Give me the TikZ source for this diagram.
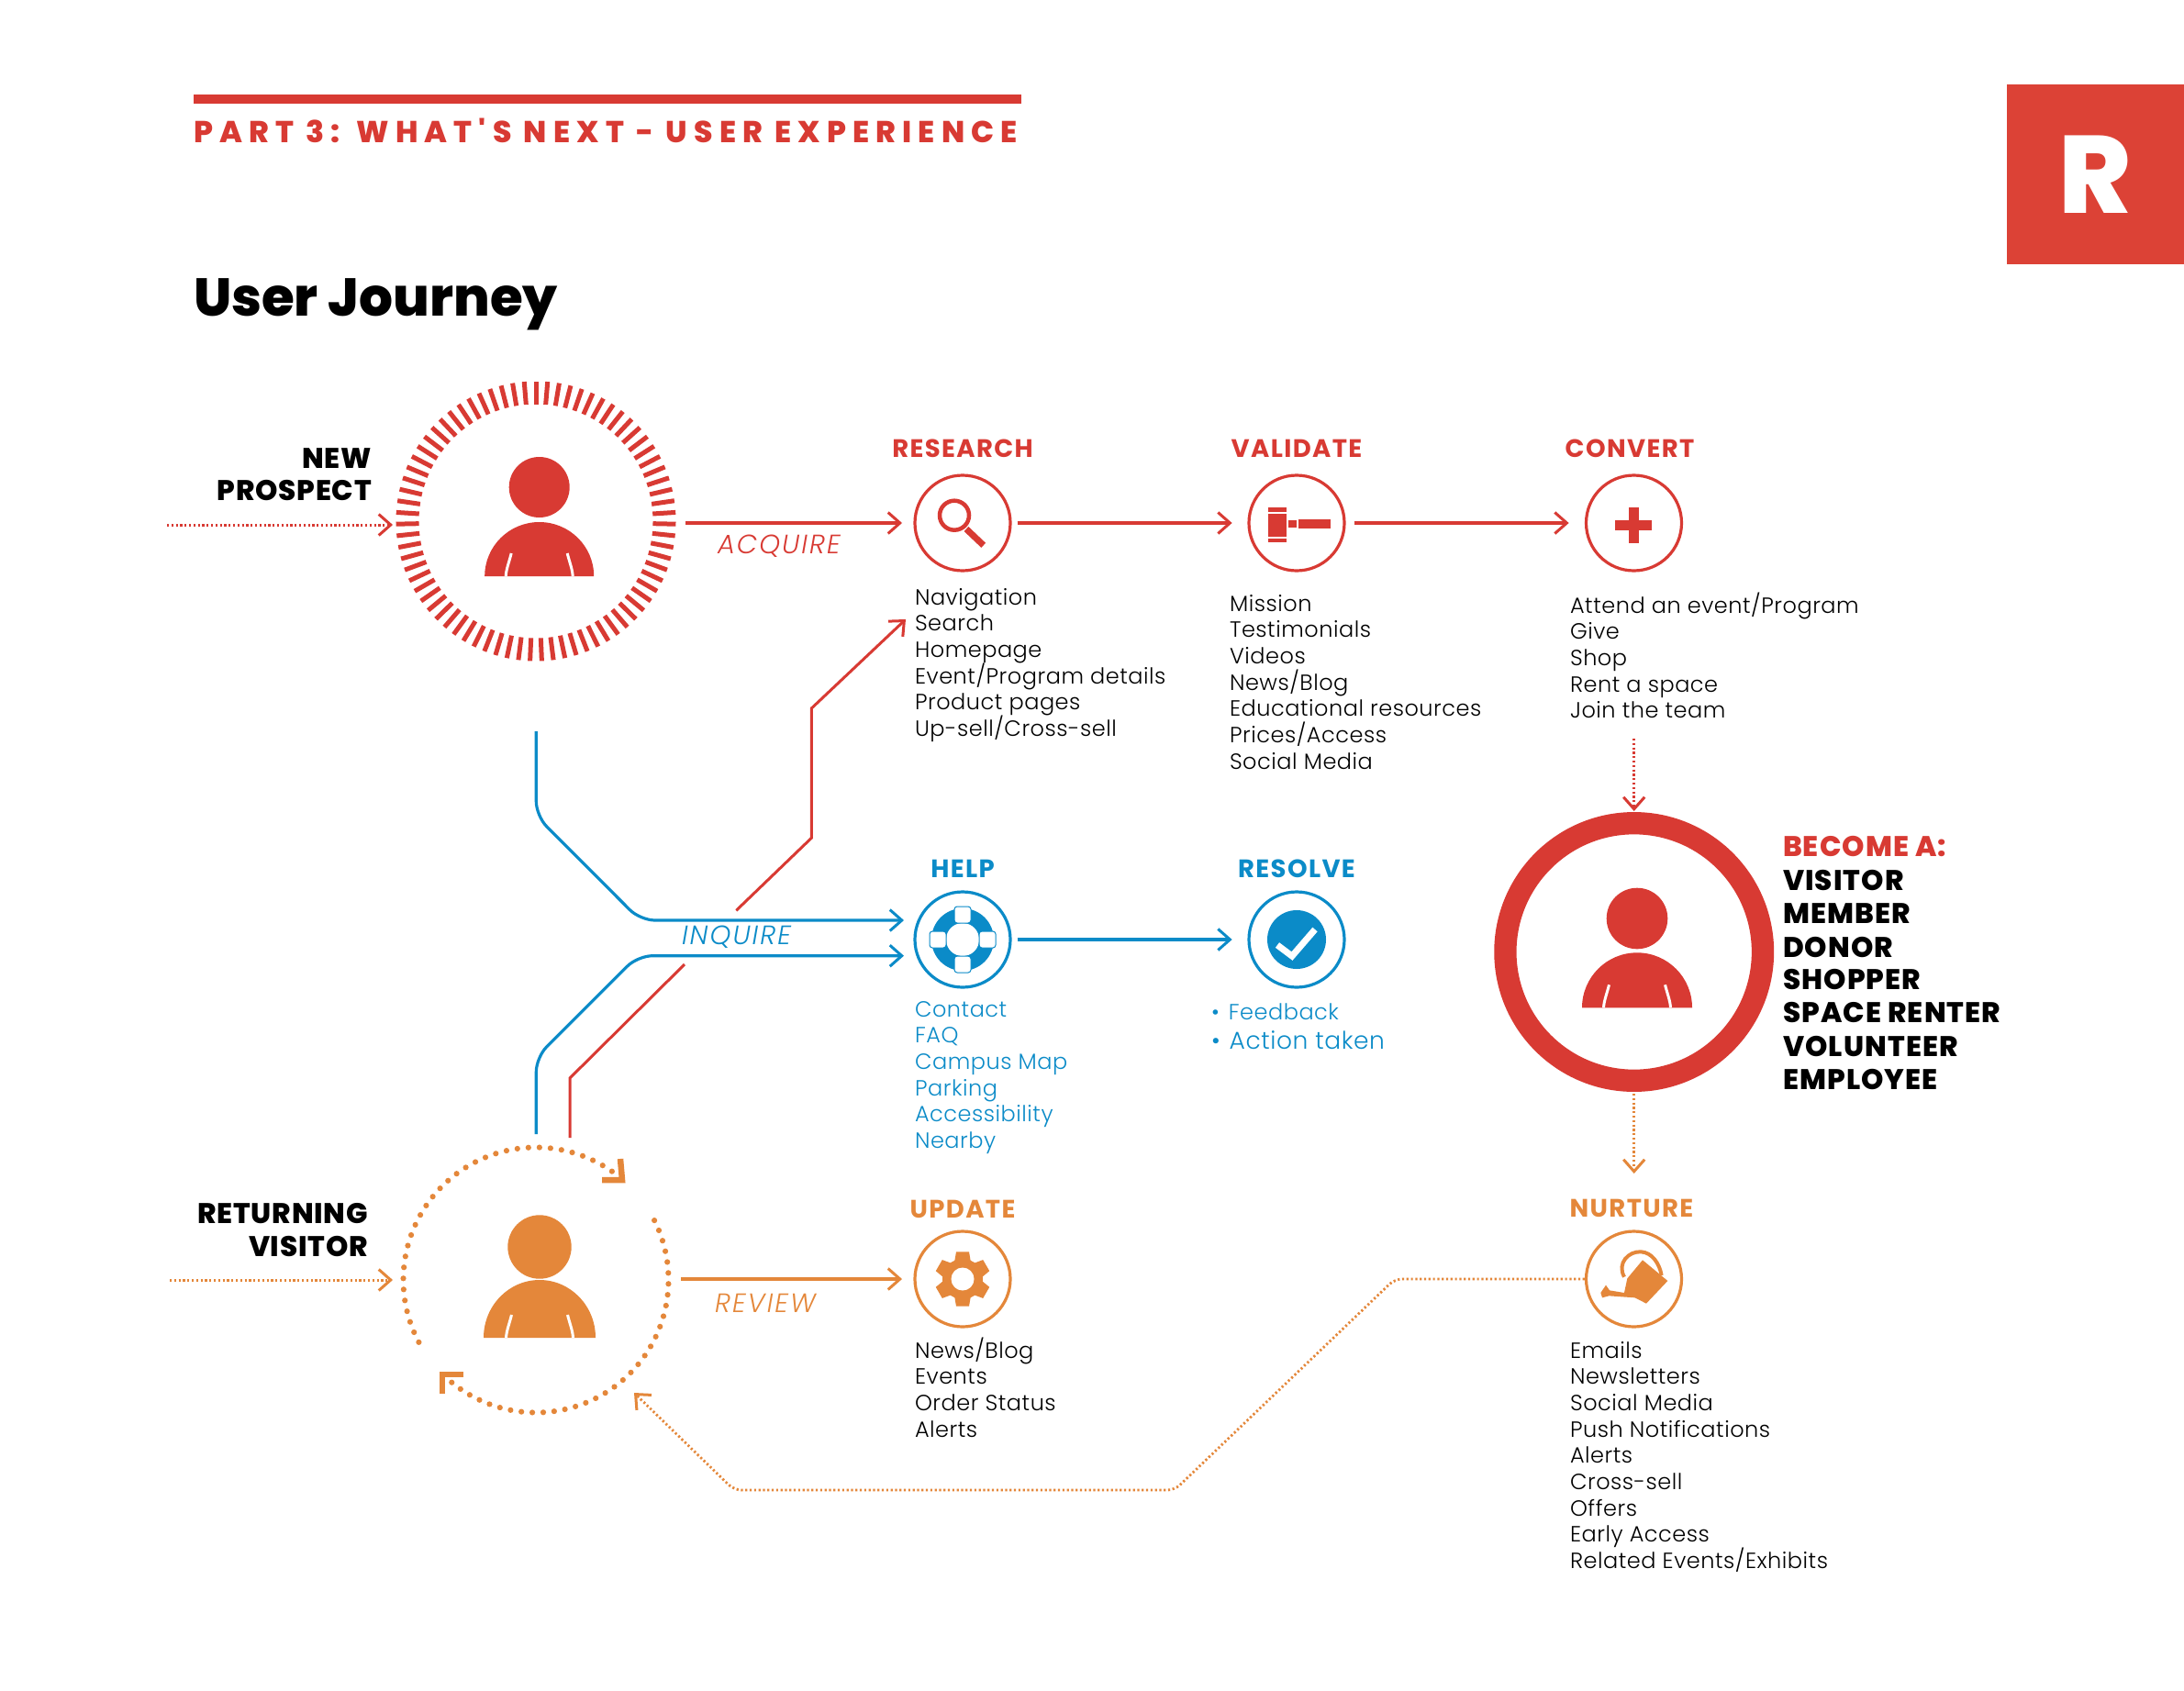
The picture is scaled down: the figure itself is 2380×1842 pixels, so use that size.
\documentclass[tikz,border=0pt]{standalone}
\usepackage{fontspec}
\usetikzlibrary{arrows.meta}
\setmainfont{Poppins}[UprightFont=* Light,BoldFont=* Bold,ItalicFont=* Light Italic,BoldItalicFont=* Bold Italic]
\newfontfamily\heavyf{Poppins ExtraBold}
\definecolor{rj}{HTML}{D83A33}
\definecolor{logored}{HTML}{DC4236}
\definecolor{bj}{HTML}{0B8BC8}
\definecolor{oj}{HTML}{E4873A}

\tikzset{
  x=1pt,y=-1pt,
  txt/.style={anchor=base west,inner sep=0,outer sep=0},
  listtxt/.style={txt,font=\fontsize{24}{28}\selectfont\addfontfeature{LetterSpace=2.2}},
  stage/.style={anchor=base,inner sep=0,font=\fontsize{27.5}{30}\selectfont\bfseries\addfontfeature{LetterSpace=5}},
  role/.style={anchor=base east,inner sep=0,font=\fontsize{31}{34}\selectfont\heavyf\addfontfeature{LetterSpace=2.5}},
  become/.style={txt,font=\fontsize{31}{36}\selectfont\heavyf\addfontfeature{LetterSpace=3.6}},
  phase/.style={txt,font=\fontsize{29}{32}\selectfont\itshape\addfontfeature{LetterSpace=7}},
  stop/.style={circle,draw,fill=white,line width=3.2pt,minimum size=104pt,inner sep=0},
  flow/.style={line width=3.5pt,-{Straight Barb[length=13pt,width=23pt,line width=3pt]}},
  trail/.style={line width=3pt,dash pattern=on 2.2pt off 2.6pt,-{Straight Barb[length=13pt,width=23pt,line width=3pt]}},
}

% filled person figure: colour, centre x, head y, head radius, body top, base y, half width
\newcommand{\personfig}[7]{
  \fill[#1] (#2,#3) circle (#4pt);
  \fill[#1] ({#2-#7},#6) arc[start angle=180,end angle=0,x radius=#7pt,y radius={(#6-#5)*1pt}] -- cycle;
  \draw[white,line width=3pt] ({#2-30.5},{#6-25}) .. controls ({#2-33},{#6-15}) and ({#2-36},{#6-8}) .. ({#2-36.5},#6);
  \draw[white,line width=3pt] ({#2+30.5},{#6-25}) .. controls ({#2+33},{#6-15}) and ({#2+36},{#6-8}) .. ({#2+36.5},#6);
}
% column of text lines: name prefix, x, first baseline, colour, items
\newcommand{\linesof}[5]{
  \foreach \itemtxt [count=\i from 0] in {#5}
    \node[listtxt,text=#4] (#1-\i) at (#2,{#3+\i*28.7}) {\itemtxt};
}

\begin{document}
\begin{tikzpicture}
\useasboundingbox (0,0) rectangle (2380,1842);
\fill[white] (0,0) rectangle (2380,1842);

% header
\fill[rj] (211,103) rectangle (1113,113);
\node[txt,text=rj,font=\fontsize{33}{36}\selectfont\heavyf\addfontfeature{LetterSpace=21.6}] (parttitle) at (211,155) {PART 3: WHAT'S NEXT - USER EXPERIENCE};
\node[txt,font=\fontsize{58}{66}\selectfont\heavyf] (journeytitle) at (211,344) {User Journey};
\fill[logored] (2187,92) rectangle (2380,288);
\node[txt,text=white,font=\fontsize{120}{120}\selectfont\heavyf] (logoR) at (2243,232) {R};

% new prospect: tick ring and figure
\foreach \k in {0,...,74}
  \draw[rj,line width=5pt] ({584+127.5*cos(90+\k*4.8)},{568-127.5*sin(90+\k*4.8)}) -- ({584+152.5*cos(90+\k*4.8)},{568-152.5*sin(90+\k*4.8)});
\personfig{rj}{587.7}{531}{33}{569}{628}{59.5}
\node[role] (newA) at (405,510) {NEW};
\node[role] (newB) at (405,545) {PROSPECT};

% returning visitor: dotted ring and figure
\foreach \k in {0,...,32}
  \fill[oj] ({584+144.5*cos(208-\k*153/32)},{1395-144.5*sin(208-\k*153/32)}) circle (3.1pt);
\foreach \k in {0,...,33}
  \fill[oj] ({584+144.5*cos(26.7-\k*156.1/33)},{1395-144.5*sin(26.7-\k*156.1/33)}) circle (3.1pt);
\draw[oj,line width=6.5pt,miter limit=10] (676,1263) -- (678,1286) -- (656,1286);
\draw[oj,line width=6.5pt,miter limit=10] (505,1498) -- (482,1498) -- (482,1519);
\personfig{oj}{588}{1359}{34.7}{1395}{1458}{61}
\node[role] (retA) at (401,1333) {RETURNING};
\node[role] (retB) at (401,1369) {VISITOR};

% stops
\node[stop,draw=rj] (research) at (1049,570) {};
\node[stop,draw=rj] (validate) at (1413,570) {};
\node[stop,draw=rj] (convert) at (1780.5,570) {};
\node[stop,draw=bj] (help) at (1049,1024) {};
\node[stop,draw=bj] (resolve) at (1413,1024) {};
\node[stop,draw=oj] (update) at (1049,1394) {};
\node[stop,draw=oj] (nurture) at (1780.5,1394) {};

% stop titles
\node[stage,text=rj] (researchT) at (1049,498) {RESEARCH};
\node[stage,text=rj] (validateT) at (1413,498) {VALIDATE};
\node[stage,text=rj] (convertT) at (1776,498) {CONVERT};
\node[stage,text=bj] (helpT) at (1049,956) {HELP};
\node[stage,text=bj] (resolveT) at (1413,956) {RESOLVE};
\node[stage,text=oj] (updateT) at (1049,1327) {UPDATE};
\node[stage,text=oj] (nurtureT) at (1778,1326) {NURTURE};

% magnifier
\draw[rj,line width=4.5pt] (1040,561.7) circle (16pt);
\draw[rj,line width=7pt] (1053,576.5) -- (1071.7,594.3);
% gavel
\fill[rj] (1382,553) rectangle (1402,557.5);
\fill[rj] (1382,560) rectangle (1402,585);
\fill[rj] (1382,587) rectangle (1402,591);
\fill[rj] (1404,567) rectangle (1412.5,575);
\fill[rj] (1415,566) rectangle (1450,576);
% plus
\fill[rj] (1760,566.5) rectangle (1800,577.5);
\fill[rj] (1774.5,553) rectangle (1785.5,592);
% life ring
\fill[bj] (help) circle (34pt);
\fill[white] (help) circle (18pt);
\foreach \dx/\dy in {0/-27,0/27,-27/0,27/0}
  \draw[bj,fill=white,line width=1pt,rounded corners=3pt] ({1049+\dx-9},{1024+\dy-9}) rectangle ({1049+\dx+9},{1024+\dy+9});
% check badge
\fill[bj] (resolve) circle (32pt);
\draw[white,line width=7pt] (1392,1030) -- (1408,1042) -- (1433,1013);
% gear
\fill[oj] (1049,1394) circle (22pt);
\foreach \a in {30,90,...,330}
  \fill[oj] ({1049+18*cos(\a)-9*sin(\a)},{1394-18*sin(\a)-9*cos(\a)})
    -- ({1049+29.7*cos(\a)-7*sin(\a)},{1394-29.7*sin(\a)-7*cos(\a)})
    -- ({1049+29.7*cos(\a)+7*sin(\a)},{1394-29.7*sin(\a)+7*cos(\a)})
    -- ({1049+18*cos(\a)+9*sin(\a)},{1394-18*sin(\a)+9*cos(\a)}) -- cycle;
\fill[white] (1049,1394) circle (12.5pt);
% watering can
\begin{scope}[shift={(1720,1335)},x=0.3333pt,y=-0.3333pt]
  \fill[oj] (210,115) -- (292,183) -- (222,257) -- (185,238) -- (100,232) -- (78,238) -- (73,222) -- (90,197) -- (102,214) -- (150,222) -- (160,175) -- cycle;
  \draw[oj,line width=4pt] (150,170) .. controls (125,125) and (165,85) .. (205,88) .. controls (240,90) and (265,125) .. (272,165);
\end{scope}

% text columns
\linesof{researchL}{997}{659}{black}{Navigation,Search,Homepage,Event/Program details,Product pages,Up-sell/Cross-sell}
\linesof{validateL}{1340}{666}{black}{Mission,Testimonials,Videos,News/Blog,Educational resources,Prices/Access,Social Media}
\linesof{convertL}{1711}{668}{black}{Attend an event/Program,Give,Shop,Rent a space,Join the team}
\linesof{helpL}{997}{1108}{bj}{Contact,FAQ,Campus Map,Parking,Accessibility,Nearby}
\linesof{updateL}{997}{1480}{black}{News/Blog,Events,Order Status,Alerts}
\linesof{nurtureL}{1711}{1480}{black}{Emails,Newsletters,Social Media,Push Notifications,Alerts,Cross-sell,Offers,Early Access,Related Events/Exhibits}
\node[listtxt,text=bj] (resolveA) at (1320,1111) {•\kern10pt Feedback};
\node[txt,text=bj,font=\fontsize{26.5}{30}\selectfont\addfontfeature{LetterSpace=2.2}] (resolveB) at (1320,1143) {•\kern10pt Action taken};

% outcome
\draw[rj,line width=24.3pt] (1780.7,1037.5) circle (140.3pt);
\coordinate (outcomeTop) at (1780.7,884);
\coordinate (outcomeBottom) at (1780.7,1192);
\personfig{rj}{1784}{1001}{33.3}{1038.3}{1098.3}{60}
\node[become,text=rj] (becomeT) at (1943,933) {BECOME A:};
\foreach \rolename/\rolepos [count=\i] in {VISITOR/970,MEMBER/1006,DONOR/1043,SHOPPER/1078,SPACE RENTER/1114,VOLUNTEER/1151,EMPLOYEE/1187}
  \node[become] (becomeR\i) at (1943,\rolepos) {\rolename};

% phase labels
\node[phase,text=rj] (acquireT) at (782,603) {ACQUIRE};
\node[phase,text=bj] (inquireT) at (743,1029) {INQUIRE};
\node[phase,text=oj] (reviewT) at (779,1430) {REVIEW};

% connector ends
\coordinate (prospectIn0) at (182,572);
\coordinate (prospectIn) at (428,572);
\coordinate (prospectOut) at (747,570);
\coordinate (researchIn) at (983,570);
\coordinate (visitorIn0) at (185,1395);
\coordinate (visitorIn) at (428,1395);
\coordinate (visitorOut) at (742,1394);
\coordinate (updateIn) at (983,1394);
\coordinate (convertOut) at (1780.7,805);
\coordinate (nurtureEnd) at (1280,1624);
\coordinate (nurtureTip) at (1780.7,1279);

% solid connectors along the top row
\draw[flow,rj] (prospectOut) -- (researchIn);
\draw[flow,rj] (research.east) ++(6,0) -- ++(234,0) coordinate (vIn);
\draw[flow,rj] (validate.east) ++(9,0) -- ++(234,0) coordinate (cIn);
\draw[trail,rj] (prospectIn0) -- (prospectIn);
\draw[trail,rj] (convertOut) -- (outcomeTop);
\draw[trail,oj] (outcomeBottom) -- (nurtureTip);

% help row
\draw[flow,bj] (help.east) ++(6,0) -- ++(234,0);
\coordinate (hA0) at (584.3,797);
\coordinate (hA1) at (584.3,889.3);
\coordinate (hA2) at (697.7,1003);
\coordinate (hA3) at (985,1003);
\draw[flow,bj,line width=3.2pt,rounded corners=16pt] (hA0) -- (hA1) -- (hA2) -- (hA3);
\coordinate (hB0) at (584.3,1236);
\coordinate (hB1) at (584.3,1152.3);
\coordinate (hB2) at (695,1041.7);
\coordinate (hB3) at (985,1041.7);
\draw[flow,bj,line width=3.2pt,rounded corners=16pt] (hB0) -- (hB1) -- (hB2) -- (hB3);

% return path to research
\coordinate (rA0) at (621,1240);
\coordinate (rA1) at (621,1175);
\coordinate (rA2) at (746,1051);
\draw[rj,line width=3pt] (rA0) -- (rA1) -- (rA2);
\coordinate (rB0) at (802.3,992.3);
\coordinate (rB1) at (884.3,913.3);
\coordinate (rB2) at (884.3,772);
\coordinate (rB3) at (987,675);
\draw[flow,rj,line width=3pt] (rB0) -- (rB1) -- (rB2) -- (rB3);

% orange row
\draw[trail,oj] (visitorIn0) -- (visitorIn);
\draw[flow,oj] (visitorOut) -- (updateIn);
\coordinate (nB) at (1520,1394);
\coordinate (nC) at (800,1624);
\coordinate (nD) at (691,1518);
\draw[trail,oj,line width=2.8pt,rounded corners=8pt] (nurture.west) -- (nB) -- (nurtureEnd) -- (nC) -- (nD);
\end{tikzpicture}
\end{document}
